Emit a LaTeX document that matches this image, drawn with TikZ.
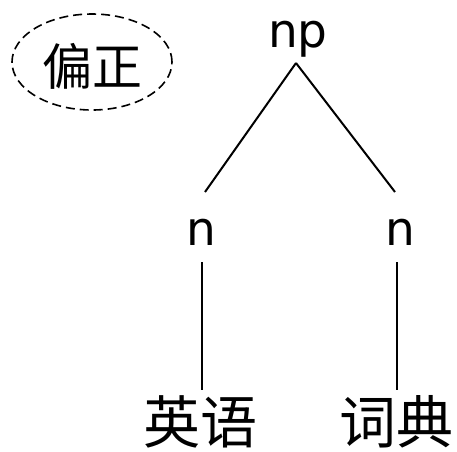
\documentclass[tikz,border=0pt]{standalone}
\usepackage{fontspec}
\setmainfont{DejaVu Sans}
\newfontfamily\cjk{Noto Sans CJK SC}
\usetikzlibrary{shapes.geometric}
\begin{document}
\begin{tikzpicture}[x=1pt,y=-1pt,
  lab/.style={inner sep=0pt,font=\fontsize{47}{47}\selectfont},
  word/.style={inner sep=0pt,font=\cjk\fontsize{57}{57}\selectfont},
  edge/.style={line width=2pt}]
\useasboundingbox (0,0) rectangle (457,451);
\node[draw,dash pattern=on 9pt off 5pt,line width=1.6pt,ellipse,minimum width=160pt,minimum height=96pt,inner sep=0pt] (tag) at (92,62) {};
\node[inner sep=0pt,font=\cjk\fontsize{50}{50}\selectfont] (tagt) at (92,66) {偏正};
\node[lab,anchor=base] (np) at (298,47) {np};
\node[lab,anchor=base] (n1) at (201,245) {n};
\node[lab,anchor=base] (n2) at (400,245) {n};
\node[word] (w1) at (200,422) {英语};
\node[word] (w2) at (396,422) {词典};
\coordinate (npb) at (296,63);
\coordinate (n1t) at (205,192);
\coordinate (n2t) at (395,192);
\coordinate (n1b) at (202,262);
\coordinate (n2b) at (397,262);
\coordinate (w1t) at (202,390);
\coordinate (w2t) at (397,390);
\draw[edge] (npb) -- (n1t);
\draw[edge] (npb) -- (n2t);
\draw[edge] (n1b) -- (w1t);
\draw[edge] (n2b) -- (w2t);
\end{tikzpicture}
\end{document}
